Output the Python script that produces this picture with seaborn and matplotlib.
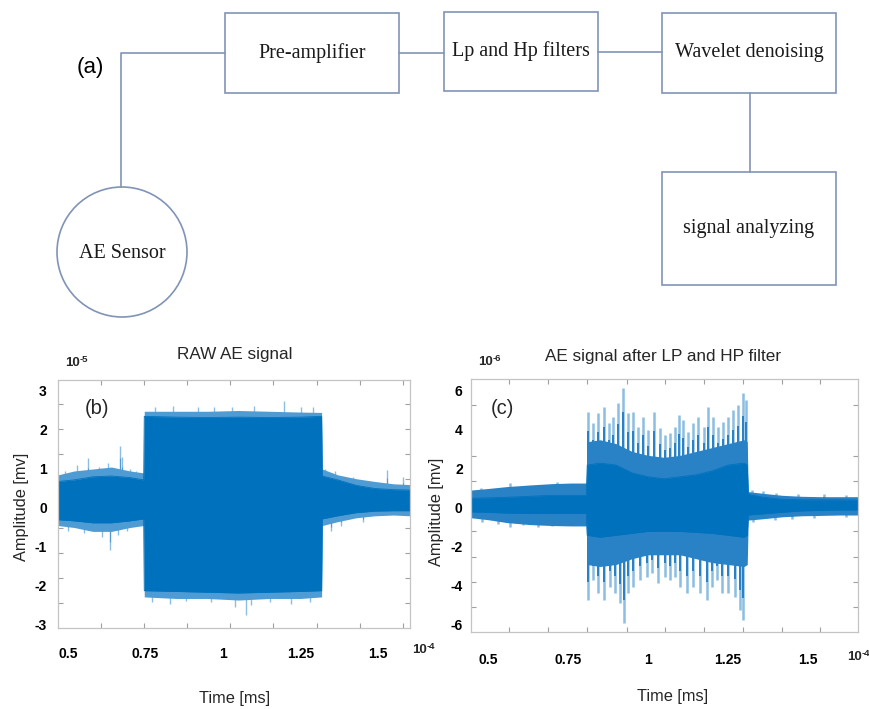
import matplotlib
matplotlib.use("Agg")
import matplotlib.pyplot as plt
from matplotlib.patches import Rectangle, Circle
from matplotlib.ticker import FixedLocator
import seaborn as sns

# ---------------------------------------------------------------------------
# Data
# ---------------------------------------------------------------------------
stage_names = ["Pre-amplifier", "Lp and Hp filters", "Wavelet denoising", "signal analyzing"]
sensor_name = "AE Sensor"

# Panel (b): raw AE signal, time in units of 1e-4, amplitude in units of 1e-5
raw_t      = [0.468, 0.52, 0.58, 0.64, 0.70, 0.744, 0.746, 0.85, 0.95, 1.05, 1.15, 1.25, 1.318, 1.320, 1.37, 1.43, 1.49, 1.55, 1.603]
raw_in_hi  = [0.68, 0.72, 0.80, 0.82, 0.78, 0.72, 2.35, 2.33, 2.32, 2.33, 2.32, 2.33, 2.35, 0.82, 0.72, 0.58, 0.50, 0.47, 0.46]
raw_in_lo  = [-0.30, -0.33, -0.38, -0.38, -0.33, -0.28, -2.12, -2.14, -2.16, -2.18, -2.16, -2.14, -2.12, -0.28, -0.20, -0.12, -0.08, -0.07, -0.07]
raw_out_hi = [0.85, 0.95, 1.00, 1.05, 0.95, 0.90, 2.48, 2.48, 2.48, 2.50, 2.48, 2.46, 2.45, 1.00, 0.85, 0.75, 0.68, 0.62, 0.60]
raw_out_lo = [-0.45, -0.50, -0.60, -0.60, -0.50, -0.45, -2.28, -2.32, -2.32, -2.36, -2.32, -2.32, -2.28, -0.45, -0.35, -0.25, -0.20, -0.18, -0.20]
raw_spike_t = [0.49, 0.53, 0.565, 0.60, 0.63, 0.668, 0.675, 0.70, 0.72,
               0.50, 0.55, 0.61, 0.635, 0.66, 0.69,
               0.78, 0.84, 0.92, 0.97, 1.03, 1.10, 1.197, 1.25, 1.29,
               0.77, 0.83, 0.88, 0.96, 1.04, 1.074, 1.09, 1.15, 1.22, 1.28,
               1.33, 1.36, 1.42, 1.53, 1.58,
               1.348, 1.38, 1.45]
raw_spike_v = [0.95, 1.10, 1.28, 1.05, 1.15, 1.60, 1.30, 1.00, 0.95,
               -0.60, -0.65, -0.75, -1.08, -0.70, -0.60,
               2.60, 2.62, 2.58, 2.60, 2.60, 2.62, 2.74, 2.60, 2.58,
               -2.40, -2.45, -2.38, -2.40, -2.55, -2.74, -2.50, -2.40, -2.45, -2.40,
               1.00, 0.95, 0.80, 0.97, 0.80,
               -0.60, -0.45, -0.35]

# Panel (c): filtered AE signal, time in units of 1e-4, amplitude in units of 1e-6
flt_t      = [0.447, 0.50, 0.56, 0.63, 0.70, 0.76, 0.807, 0.810, 0.85, 0.90, 0.95, 1.00, 1.05, 1.10, 1.15, 1.20, 1.25, 1.30, 1.310, 1.313, 1.36, 1.42, 1.48, 1.54, 1.60, 1.656]
flt_in_hi  = [0.50, 0.52, 0.55, 0.60, 0.65, 0.65, 0.65, 2.2, 2.3, 2.2, 1.8, 1.6, 1.5, 1.6, 1.7, 1.9, 2.2, 2.3, 2.2, 0.70, 0.55, 0.45, 0.42, 0.42, 0.42, 0.40]
flt_in_lo  = [-0.20, -0.22, -0.26, -0.28, -0.28, -0.28, -0.28, -1.4, -1.5, -1.4, -1.3, -1.2, -1.2, -1.2, -1.25, -1.3, -1.4, -1.5, -1.4, -0.36, -0.30, -0.22, -0.15, -0.12, -0.10, -0.10]
flt_out_hi = [0.92, 1.00, 1.10, 1.18, 1.25, 1.28, 1.28, 3.4, 3.5, 3.3, 2.9, 2.7, 2.6, 2.7, 2.9, 3.1, 3.3, 3.5, 3.4, 0.84, 0.75, 0.65, 0.60, 0.58, 0.58, 0.58]
flt_out_lo = [-0.50, -0.60, -0.75, -0.85, -0.90, -0.92, -0.92, -2.9, -3.0, -2.9, -2.6, -2.4, -2.4, -2.4, -2.6, -2.8, -2.9, -3.0, -2.9, -0.62, -0.55, -0.45, -0.40, -0.38, -0.36, -0.36]
flt_up_t = [0.8135, 0.8292, 0.8448, 0.8625, 0.8792, 0.8917, 0.9073, 0.9229, 0.9385, 0.9542,
            0.9698, 0.9854, 1.001, 1.0188, 1.0375, 1.0531, 1.0688, 1.0844, 1.0969, 1.1104,
            1.1260, 1.1417, 1.1573, 1.175, 1.1885, 1.2042, 1.2198, 1.2354, 1.2510, 1.2667,
            1.2823, 1.2979, 1.3052,
            0.479, 0.52, 0.568, 0.60, 0.625, 0.66, 0.716, 0.75, 0.78,
            1.325, 1.36, 1.40, 1.47, 1.55, 1.617]
flt_up_v = [4.94, 4.34, 4.85, 5.20, 4.34, 4.68, 5.37, 6.14, 4.85, 4.94,
            4.17, 4.68, 4.00, 4.94, 4.09, 3.74, 3.83, 4.17, 4.77, 4.51,
            3.91, 4.34, 4.68, 4.17, 5.20, 4.68, 4.17, 4.43, 4.68, 5.03,
            5.28, 5.88, 5.54,
            1.01, 0.95, 1.27, 1.05, 1.09, 1.15, 1.35, 1.09, 1.20,
            0.92, 0.85, 0.75, 0.70, 0.72, 0.67]
flt_dn_t = [0.8135, 0.8292, 0.8448, 0.8625, 0.8813, 0.8969, 0.9125, 0.925, 0.9385, 0.9542,
            0.975, 0.9958, 1.0115, 1.0323, 1.0531, 1.0688, 1.0844, 1.1, 1.1208, 1.1417,
            1.1625, 1.1833, 1.199, 1.2146, 1.2302, 1.2510, 1.2719, 1.2875, 1.2979,
            0.48, 0.53, 0.57, 0.61, 0.656, 0.70, 0.75, 0.79,
            1.328, 1.398, 1.45, 1.52, 1.617]
flt_dn_v = [-4.72, -3.69, -4.38, -4.72, -4.03, -4.38, -4.89, -5.91, -4.38, -4.03,
            -3.69, -3.52, -3.35, -3.86, -3.52, -3.69, -3.52, -4.03, -4.38, -4.03,
            -4.38, -4.72, -4.03, -3.69, -4.38, -4.38, -4.55, -5.23, -5.74,
            -0.70, -0.80, -0.96, -0.85, -0.96, -0.90, -0.88, -0.85,
            -0.70, -0.62, -0.55, -0.50, -0.45]

time_ticks = [0.5, 0.75, 1, 1.25, 1.5]
time_tick_labels = ["0.5", "0.75", "1", "1.25", "1.5"]
raw_amp_ticks = [3, 2, 1, 0, -1, -2, -3]
flt_amp_ticks = [6, 4, 2, 0, -2, -4, -6]

# ---------------------------------------------------------------------------
# Style
# ---------------------------------------------------------------------------
sns.set_theme(style="white")
plt.rcParams["font.family"] = ["Liberation Sans", "DejaVu Sans"]
plt.rcParams["axes.unicode_minus"] = False

BLUE = "#0072BD"
LIGHT = "#8cbde3"
DIAG = "#8193b6"
SERIF = ["Liberation Serif", "DejaVu Serif"]

W, H = 870, 709
fig = plt.figure(figsize=(W / 100, H / 100), dpi=100)
fig.patch.set_facecolor("white")


def fx(px):
    return px / W


def fy(py):
    return 1 - py / H


# ---------------------------------------------------------------------------
# (a) block diagram, drawn in pixel coordinates
# ---------------------------------------------------------------------------
dg = fig.add_axes([0, 0, 1, 1], zorder=0)
dg.set_xlim(0, W)
dg.set_ylim(H, 0)
dg.axis("off")

boxes = [(225, 13, 399, 93), (444, 12, 598, 91), (662, 13, 836, 93), (662, 172, 836, 285)]
for (x0, y0, x1, y1), name in zip(boxes, stage_names):
    dg.add_patch(Rectangle((x0, y0), x1 - x0, y1 - y0, fill=False, ec=DIAG, lw=1.2))
    dg.text((x0 + x1) / 2, (y0 + y1) / 2, name, ha="center", va="center",
            fontsize=14.5, family=SERIF, color="#1a1a1a")

dg.add_patch(Circle((122, 252), 65, fill=False, ec=DIAG, lw=1.2))
dg.text(122, 253, sensor_name, ha="center", va="center", fontsize=14.5, family=SERIF, color="#1a1a1a")

dg.plot([121, 121, 225], [187, 53, 53], color=DIAG, lw=1.2)
dg.plot([399, 444], [53, 53], color=DIAG, lw=1.2)
dg.plot([598, 662], [52, 52], color=DIAG, lw=1.2)
dg.plot([750, 750], [93, 172], color=DIAG, lw=1.2)
dg.text(90, 68, "(a)", ha="center", va="center", fontsize=16, color="black")


# ---------------------------------------------------------------------------
# signal panels
# ---------------------------------------------------------------------------
def signal_panel(rect, t, in_lo, in_hi, out_lo, out_hi, spike_t, spike_v, xlim, ylim,
                 yticks, xminor, yminor, xpad, ypad, spike_lw, fringe):
    ax = fig.add_axes(rect, zorder=2)
    ax.set_facecolor("white")
    # individual peaks: pale tips over a darker lower part
    ax.vlines(spike_t, 0, spike_v, colors=LIGHT, lw=spike_lw, zorder=1)
    ax.vlines(spike_t, 0, [0.8 * v for v in spike_v], colors=fringe, lw=spike_lw * 0.8, zorder=1.1)
    # envelope of the dense oscillation: lighter fringe and solid core
    ax.fill_between(t, out_lo, out_hi, color=fringe, lw=0, zorder=1.5)
    ax.fill_between(t, in_lo, in_hi, color=BLUE, lw=0, zorder=1.6)
    sns.lineplot(x=t, y=in_hi, ax=ax, color=BLUE, lw=0.6, zorder=1.7)
    sns.lineplot(x=t, y=in_lo, ax=ax, color=BLUE, lw=0.6, zorder=1.7)
    ax.set_xlim(*xlim)
    ax.set_ylim(*ylim)
    ax.set_xticks(time_ticks)
    ax.set_xticklabels(time_tick_labels, fontweight="bold", fontsize=10)
    ax.set_yticks(yticks)
    ax.set_yticklabels([str(v) for v in yticks], fontweight="bold", fontsize=10)
    ax.xaxis.set_minor_locator(FixedLocator(xminor))
    ax.yaxis.set_minor_locator(FixedLocator(yminor))
    ax.tick_params(which="major", length=0, colors="black")
    ax.tick_params(axis="x", which="major", pad=xpad)
    ax.tick_params(axis="y", which="major", pad=ypad)
    ax.tick_params(which="minor", direction="in", length=3.5, width=0.8, color="#a0a0a0",
                   bottom=True, top=True, left=True, right=True)
    for sp in ax.spines.values():
        sp.set_color("#c4c4c4")
        sp.set_linewidth(0.9)
        sp.set_zorder(3)
    ax.set_xlabel("")
    ax.set_ylabel("")
    return ax


# (b) raw signal
axb = signal_panel(
    [fx(58), fy(628), fx(410) - fx(58), fy(380) - fy(628)],
    raw_t, raw_in_lo, raw_in_hi, raw_out_lo, raw_out_hi, raw_spike_t, raw_spike_v,
    (0.4677, 1.6032), (-3.077, 3.282), raw_amp_ticks,
    [0.605, 0.745, 0.884, 1.023, 1.161, 1.303, 1.442, 1.581],
    [2.67, 2.03, 1.38, 0.74, 0.13, -0.51, -1.15, -1.79, -2.44],
    14, 8, 1.0, "#4f9cd4")

# (c) filtered signal
axc = signal_panel(
    [fx(471), fy(632), fx(858) - fx(471), fy(379) - fy(632)],
    flt_t, flt_in_lo, flt_in_hi, flt_out_lo, flt_out_hi,
    flt_up_t + flt_dn_t, flt_up_v + flt_dn_v,
    (0.4469, 1.656), (-6.359, 6.615), flt_amp_ticks,
    [0.567, 0.688, 0.81, 0.933, 1.053, 1.175, 1.296, 1.418, 1.538],
    [5.28, 4.0, 2.68, 1.4, 0.12, -1.18, -2.5, -3.78, -5.06],
    15, 6, 1.8, "#2a82c6")

# titles, axis labels, exponents and panel tags
fig.text(fx(235), fy(355), "RAW AE signal", ha="center", va="center", fontsize=12.3)
fig.text(fx(663), fy(357), "AE signal after LP and HP filter", ha="center", va="center", fontsize=12.3)

for x, y in [(22, 507), (437, 512)]:
    fig.text(fx(x), fy(y), "Amplitude [mv]", rotation=90, ha="center", va="center", fontsize=11.8)
for x, y in [(235, 698), (673, 697)]:
    fig.text(fx(x), fy(y), "Time [ms]", ha="center", va="center", fontsize=11.8)


def power_of_ten(x, y, exponent):
    base = fig.text(fx(x), fy(y), "10", ha="left", va="center", fontsize=9.5, fontweight="bold")
    dg.annotate(exponent, xy=(1.0, 0.78), xycoords=base, ha="left", va="center",
                fontsize=6.8, fontweight="bold")


power_of_ten(65, 363, "-5")
power_of_ten(478, 362, "-6")
power_of_ten(412, 650, "-4")
power_of_ten(847, 657, "-4")

fig.text(fx(97), fy(408), "(b)", ha="center", va="center", fontsize=14.5)
fig.text(fx(502), fy(409), "(c)", ha="center", va="center", fontsize=14.5)

fig.savefig("out.png", dpi=100, facecolor="white")
